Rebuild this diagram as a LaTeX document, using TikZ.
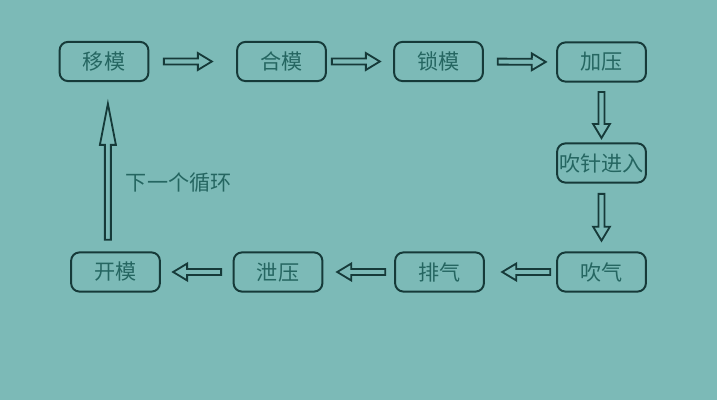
\documentclass[tikz,border=0pt]{standalone}
\usepackage{fontspec}
\usepackage{tikz}
\usetikzlibrary{positioning, shapes.arrows}
\newfontfamily\cjk{Noto Sans CJK SC}
\definecolor{bgteal}{HTML}{7CBAB7}
\definecolor{edgeteal}{HTML}{163A39}
\definecolor{textteal}{HTML}{256661}

\begin{document}
\begin{tikzpicture}[x=0.025cm, y=-0.025cm, font=\cjk\fontsize{15}{18}\selectfont,
    stepbox/.style={draw=edgeteal, line width=1.4pt, rounded corners=6pt, minimum width=2.22cm, minimum height=0.98cm, inner sep=0pt, text=textteal},
    flow/.style={single arrow, draw=edgeteal, line width=1.3pt, fill=bgteal, inner xsep=0pt, inner ysep=0.052cm, minimum width=0.38cm, single arrow head extend=0.135cm, single arrow tip angle=62, sloped, allow upside down, minimum height=#1},
    flow/.default=1.2cm]
  \fill[bgteal] (0,0) rectangle (717,400);
  \node[stepbox] (yimo) at (104,61.5) {移模};
  \node[stepbox] (hemo) at (281.5,61.5) {合模};
  \node[stepbox] (suomo) at (438.5,61.5) {锁模};
  \node[stepbox] (jiaya) at (601.5,62) {加压};
  \node[stepbox] (chuizhen) at (601.5,163) {吹针进入};
  \node[stepbox] (chuiqi) at (601.5,272) {吹气};
  \node[stepbox] (paiqi) at (439.5,272) {排气};
  \node[stepbox] (xieya) at (278,272) {泄压};
  \node[stepbox] (kaimo) at (115.5,272) {开模};
  \path (yimo.east) -- node[flow, pos=0.415] {} (hemo.west);
  \path (hemo.east) -- node[flow, pos=0.40] {} (suomo.west);
  \path (suomo.east) -- node[flow, pos=0.49] {} (jiaya.west);
  \path (jiaya.south) -- node[flow=1.15cm, pos=0.50] {} (chuizhen.north);
  \path (chuizhen.south) -- node[flow=1.17cm, pos=0.46] {} (chuiqi.north);
  \path (chuiqi.west) -- node[flow, pos=0.385] {} (paiqi.east);
  \path (paiqi.west) -- node[flow, pos=0.43] {} (xieya.east);
  \path (xieya.west) -- node[flow, pos=0.46] {} (kaimo.east);
  \coordinate (loopstart) at ([xshift=-0.19cm]kaimo.north);
  \path (loopstart) -- node[flow=3.4cm, single arrow tip angle=22, minimum width=0.36cm, single arrow head extend=0.125cm, pos=0.425] (back) {} (loopstart |- yimo.south);
  \node[text=textteal, anchor=west] (loop) at (121,183) {下一个循环};
\end{tikzpicture}
\end{document}
